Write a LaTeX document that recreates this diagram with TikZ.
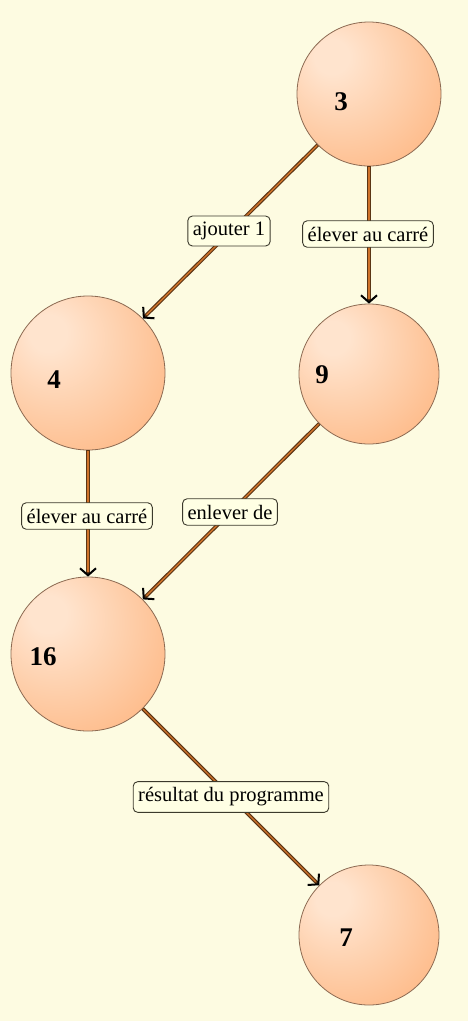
\documentclass[tikz,border=0pt]{standalone}
\usepackage{fontspec}
\setmainfont{Liberation Serif}
\usetikzlibrary{arrows.meta}

\definecolor{bgcream}{HTML}{FDFBE1}
\definecolor{ballorange}{HTML}{FDAE74}
\definecolor{balllight}{HTML}{FFE4CE}
\definecolor{ballrim}{HTML}{8C6A52}
\definecolor{edgebrown}{HTML}{5A3414}
\definecolor{edgeorange}{HTML}{D0732A}
\definecolor{tagfill}{HTML}{FFFFE4}
\definecolor{tagrim}{HTML}{3C3A2C}

% soft highlight towards the upper left of each state circle
\pgfdeclareradialshading{statefill}{\pgfpoint{-14bp}{14bp}}{%
  color(0bp)=(balllight); color(6bp)=(balllight);
  color(48bp)=(ballorange); color(80bp)=(ballorange)}

\tikzset{
  state/.style={circle, draw=ballrim, line width=0.8pt, shading=statefill, inner sep=0pt},
  value/.style={font=\fontsize{27}{27}\selectfont\bfseries, text=black},
  tag/.style={draw=tagrim, fill=tagfill, line width=0.9pt, rounded corners=4.5pt,
    inner xsep=5pt, inner ysep=6pt, font=\fontsize{20.5}{20.5}\selectfont},
  link/.style={draw=edgebrown, line width=3.6pt,
    -{Straight Barb[color=black, length=7pt, width=16pt, line width=2pt]},
    postaction={draw=edgeorange, line width=1.4pt, -, shorten >=5pt, shorten <=0.6pt}}
}

\begin{document}
\begin{tikzpicture}[x=1pt, y=-1pt]
  \fill[bgcream] (0,0) rectangle (468,1021);
  \useasboundingbox (0,0) rectangle (468,1021);

  % states
  \node[state, minimum size=144pt] (n3)  at (369,94)  {};
  \node[state, minimum size=154pt] (n4)  at (88,373)  {};
  \node[state, minimum size=140pt] (n9)  at (369,374) {};
  \node[state, minimum size=154pt] (n16) at (88,654)  {};
  \node[state, minimum size=140pt] (n7)  at (369,935) {};

  \node[value] (v3)  at (341,102) {3};
  \node[value] (v4)  at (54,380)  {4};
  \node[value] (v9)  at (322,375) {9};
  \node[value] (v16) at (43,657)  {16};
  \node[value] (v7)  at (346,938) {7};

  % transitions
  \draw[link] (n3)  -- (n4);
  \draw[link] (n3)  -- (n9);
  \draw[link] (n4)  -- (n16);
  \draw[link] (n9)  -- (n16);
  \draw[link] (n16) -- (n7);

  % transition labels
  \node[tag] (t1) at (229,231) {ajouter 1};
  \node[tag] (t2) at (368,234) {élever au carré};
  \node[tag] (t3) at (87,516)  {élever au carré};
  \node[tag] (t4) at (230,512) {enlever de};
  \node[tag] (t5) at (231,797) {résultat du programme};
\end{tikzpicture}
\end{document}
